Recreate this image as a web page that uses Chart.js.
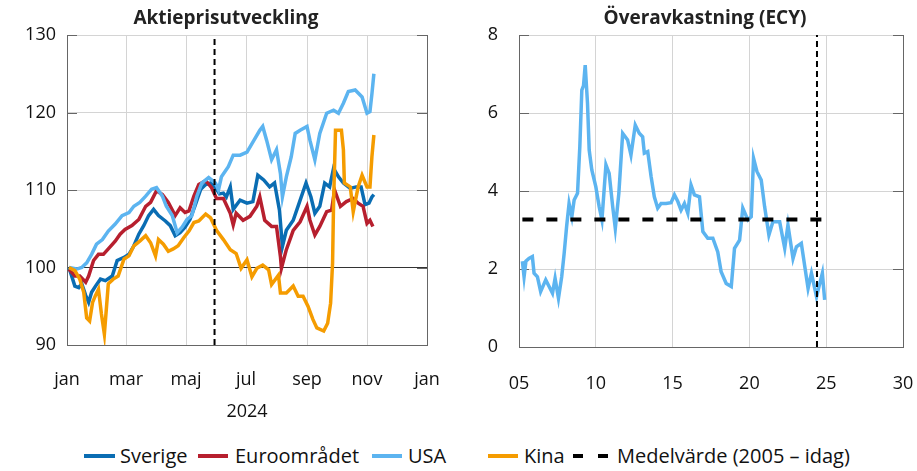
<!DOCTYPE html>
<html>
<head>
<meta charset="utf-8">
<script src="https://cdn.jsdelivr.net/npm/chart.js@4/dist/chart.umd.min.js"></script>
<style>
body { margin: 0; background: #fff; font-family: "Open Sans", sans-serif; }
#wrap { position: relative; width: 917px; height: 471px; overflow: hidden; }
canvas { position: absolute; top: 0; }
.ttl { position: absolute; top: 5px; font-weight: bold; font-size: 19px; line-height: 24px; text-align: center; color: #222; }
.lg { position: absolute; top: 444px; height: 24px; line-height: 24px; font-size: 20px; color: #111; white-space: nowrap; }
.sw { position: absolute; top: 456px; height: 4px; margin-top: -2px; }
</style>
</head>
<body>
<div id="wrap">
  <canvas id="left" width="452" height="430" style="left:0"></canvas>
  <canvas id="right" width="465" height="430" style="left:452px"></canvas>
  <div class="ttl" style="left:0;width:452px">Aktieprisutveckling</div>
  <div class="ttl" style="left:495px;width:420px">Överavkastning (ECY)</div>

  <div class="sw" style="left:84px;width:31px;background:#0a6db3"></div>
  <div class="lg" style="left:120px">Sverige</div>
  <div class="sw" style="left:198px;width:30px;background:#b71f2e"></div>
  <div class="lg" style="left:235px">Euroområdet</div>
  <div class="sw" style="left:372px;width:30px;background:#5cb4f0"></div>
  <div class="lg" style="left:408px">USA</div>
  <div class="sw" style="left:488px;width:30px;background:#f59c00"></div>
  <div class="lg" style="left:524px">Kina</div>
  <div class="sw" style="left:573px;width:36px;background:repeating-linear-gradient(to right,#000 0 10px,transparent 10px 25px)"></div>
  <div class="lg" style="left:617px">Medelvärde (2005 – idag)</div>
</div>
<script>
// vänster diagram: aktiepriser, index 100 = årsskiftet, x = dag på året 2024
var monthTicks = [0, 60, 121, 182, 244, 305, 366];
var monthLabels = ['jan', 'mar', 'maj', 'jul', 'sep', 'nov', 'jan'];

var sverigeDays = [2, 8, 12, 15, 19, 22, 25, 29, 34, 39, 46, 51, 58, 63, 68, 73, 78, 83, 88, 93, 100, 105, 110, 115, 120, 125, 130, 136, 141, 146, 151, 155, 159, 162, 166, 169, 176, 183, 189, 194, 200, 206, 211, 216, 219, 223, 230, 236, 243, 248, 252, 257, 262, 267, 271, 276, 281, 288, 294, 299, 303, 307, 310, 312];
var sverigeVals = [100, 97.6, 97.4, 97.9, 96.4, 95.5, 96.8, 97.6, 98.5, 98.3, 98.9, 100.9, 101.3, 101.7, 102.8, 104.3, 105.4, 106.7, 107.5, 106.7, 106, 105.4, 104.1, 104.5, 105.2, 106.2, 107.9, 110.1, 110.7, 110.9, 110.3, 109.5, 109.6, 109.1, 110.4, 107.5, 108.7, 108.3, 108.5, 111.9, 111.3, 110.4, 110.9, 107.4, 102.7, 104.8, 106.1, 108.3, 110.9, 109.1, 107, 107.9, 110.9, 110.4, 112.8, 111.7, 110.9, 110.2, 110.4, 110.4, 108.1, 108.3, 109.1, 109.4];

var euroDays = [2, 8, 13, 19, 22, 27, 32, 37, 42, 49, 54, 59, 66, 73, 80, 85, 91, 97, 103, 110, 115, 120, 124, 129, 134, 141, 147, 152, 159, 166, 169, 172, 179, 186, 193, 196, 201, 208, 213, 217, 218, 223, 230, 237, 244, 247, 252, 257, 264, 269, 272, 278, 284, 291, 296, 301, 305, 308, 311];
var euroVals = [99.8, 98.9, 98.9, 98.1, 98.9, 100.9, 101.7, 101.7, 102.4, 103.4, 104.3, 104.9, 105.4, 106.2, 107.9, 108.4, 109.9, 109.4, 108.4, 106.7, 107.7, 107.1, 107.3, 109.2, 110.7, 111.2, 110.3, 108.9, 108.9, 107, 105.5, 107, 106.1, 106.6, 107.9, 109.1, 106.1, 105.3, 105.3, 101.4, 99.9, 102.3, 104.8, 105.9, 107.9, 106.1, 104.2, 105.3, 107.2, 107.4, 110, 107.9, 108.5, 108.9, 108.3, 107.9, 105.7, 106.1, 105.3];

var usaDays = [2, 10, 15, 20, 25, 30, 36, 42, 49, 56, 63, 68, 74, 80, 86, 91, 97, 101, 107, 112, 117, 122, 127, 132, 137, 144, 151, 154, 157, 164, 169, 176, 183, 190, 196, 199, 203, 208, 213, 217, 219, 223, 228, 232, 237, 244, 247, 252, 257, 264, 271, 276, 281, 286, 293, 300, 305, 308, 310, 312];
var usaVals = [100, 99.8, 100, 100.6, 101.7, 103, 103.6, 104.7, 105.6, 106.7, 107.1, 107.9, 108.4, 109.2, 110.1, 110.3, 109.2, 107.9, 106.7, 104.5, 105.2, 106.2, 106.7, 109.2, 110.9, 111.6, 110.9, 110, 111.7, 113, 114.5, 114.5, 114.9, 116.4, 117.7, 118.2, 116.4, 113.9, 115.2, 112.1, 109.1, 111.7, 114.3, 117.3, 117.7, 118.2, 116.4, 113.9, 117.3, 119.9, 120.3, 119.9, 121.2, 122.7, 122.9, 122, 119.9, 120.1, 122.4, 125];

var kinaDays = [2, 8, 13, 17, 20, 23, 26, 29, 32, 35, 38, 42, 47, 52, 58, 63, 68, 74, 80, 85, 90, 93, 98, 103, 108, 113, 119, 124, 129, 134, 141, 146, 152, 159, 166, 172, 177, 183, 188, 193, 199, 205, 208, 215, 217, 223, 230, 235, 240, 245, 250, 254, 261, 265, 268, 270, 271, 273, 279, 281, 282, 288, 291, 296, 300, 305, 308, 310, 312];
var kinaVals = [100, 99.6, 98.5, 96.8, 93.5, 93.1, 95.5, 96.4, 97.2, 94, 91.4, 97.9, 98.5, 98.9, 101.1, 101.5, 102.8, 103.4, 104.1, 103.2, 101.5, 103.6, 103, 102.1, 102.4, 102.8, 103.9, 104.7, 105.8, 106, 106.9, 106.4, 104.8, 103.6, 102.3, 101.8, 99.9, 101, 98.8, 99.9, 100.3, 99.7, 97.8, 99, 96.7, 96.7, 97.6, 96.3, 96.3, 95, 93.3, 92.2, 91.8, 92.8, 95.4, 100.6, 108.3, 117.7, 117.7, 115.2, 110.9, 110.4, 107.2, 110.4, 111.9, 110.4, 110.4, 114.3, 117.1];

var markerDay = 150;

// höger diagram: överavkastning (ECY), x = år (05 = 2005)
var ecyYears = [5.22, 5.33, 5.45, 5.65, 5.87, 5.98, 6.2, 6.41, 6.74, 6.96, 7.18, 7.35, 7.57, 7.78, 7.94, 8.1, 8.26, 8.44, 8.59, 8.81, 8.96, 9.09, 9.2, 9.31, 9.46, 9.57, 9.74, 10.0, 10.22, 10.4, 10.66, 10.87, 11.1, 11.27, 11.5, 11.75, 12.07, 12.29, 12.57, 12.83, 13.05, 13.16, 13.38, 13.6, 13.81, 14.03, 14.25, 14.57, 14.9, 15.12, 15.34, 15.55, 15.77, 15.99, 16.2, 16.42, 16.75, 16.97, 17.29, 17.62, 17.94, 18.16, 18.49, 18.82, 19.03, 19.36, 19.57, 19.9, 20.12, 20.27, 20.49, 20.77, 20.99, 21.27, 21.53, 21.97, 22.3, 22.51, 22.84, 23.06, 23.38, 23.82, 24.04, 24.37, 24.53, 24.75, 24.9];
var ecyVals = [2.2, 1.8, 2.2, 2.27, 2.32, 1.89, 1.8, 1.42, 1.72, 1.55, 1.38, 1.76, 1.25, 1.8, 2.4, 3.09, 3.68, 3.34, 3.77, 3.94, 5.14, 6.59, 6.7, 7.23, 6.25, 5.05, 4.54, 4.11, 3.6, 3.26, 4.67, 4.45, 3.6, 3.04, 3.94, 5.48, 5.31, 4.92, 5.69, 5.48, 5.39, 4.97, 5.01, 4.37, 3.85, 3.56, 3.68, 3.68, 3.7, 3.9, 3.73, 3.51, 3.68, 3.43, 4.15, 3.9, 3.85, 2.96, 2.79, 2.79, 2.44, 1.93, 1.63, 1.55, 2.53, 2.74, 3.56, 3.26, 3.34, 4.84, 4.5, 4.28, 3.6, 2.87, 3.21, 3.21, 2.53, 3.13, 2.27, 2.57, 2.66, 1.5, 1.89, 1.29, 1.55, 1.89, 1.21];
var meanEcy = 3.27;
var meanYears = [5.22, 24.9];
var markerYear = 24.4;

function pts(xs, ys) {
  return xs.map(function (x, i) { return { x: x, y: ys[i] }; });
}

Chart.defaults.font.family = "'Open Sans', sans-serif";
Chart.defaults.font.size = 18;
Chart.defaults.color = '#111';

var gridColor = '#d4d4d4';
var axisColor = '#666';

// små streck innanför axellinjerna, som i Excel
var innerTicks = {
  id: 'innerTicks',
  beforeDatasetsDraw: function (chart) {
    var ctx = chart.ctx, a = chart.chartArea, s = chart.scales.y;
    ctx.save();
    ctx.strokeStyle = axisColor;
    ctx.lineWidth = 1;
    s.ticks.forEach(function (t) {
      var y = Math.round(s.getPixelForValue(t.value)) + 0.5;
      ctx.beginPath();
      ctx.moveTo(a.left, y); ctx.lineTo(a.left + 10, y);
      ctx.moveTo(a.right - 10, y); ctx.lineTo(a.right, y);
      ctx.stroke();
    });
    ctx.restore();
  }
};

// x-axelns etiketter får inte knuffa in ritytan
function fixX(h) {
  return function (s) { s.height = h; s.paddingLeft = 0; s.paddingRight = 0; };
}

function line(label, data, color) {
  return { label: label, data: data, borderColor: color, borderWidth: 3.5, pointRadius: 0, tension: 0, fill: false };
}

new Chart(document.getElementById('left'), {
  type: 'line',
  data: {
    datasets: [
      { label: 'marker', data: [{ x: markerDay, y: 90 }, { x: markerDay, y: 130 }], borderColor: '#000', borderWidth: 2, borderDash: [6, 4], pointRadius: 0 },
      line('Kina', pts(kinaDays, kinaVals), '#f59c00'),
      line('USA', pts(usaDays, usaVals), '#5cb4f0'),
      line('Euroområdet', pts(euroDays, euroVals), '#b71f2e'),
      line('Sverige', pts(sverigeDays, sverigeVals), '#0a6db3')
    ]
  },
  options: {
    responsive: false,
    animation: false,
    layout: { padding: { top: 35 } },
    plugins: { legend: { display: false }, tooltip: { enabled: false } },
    scales: {
      x: {
        type: 'linear', min: 0, max: 366,
        afterBuildTicks: function (s) { s.ticks = monthTicks.map(function (v) { return { value: v }; }); },
        afterFit: fixX(85),
        ticks: { autoSkip: false, maxRotation: 0, padding: 24, callback: function (v, i) { return monthLabels[i]; } },
        grid: { color: gridColor, drawTicks: false },
        border: { color: axisColor },
        title: { display: true, text: '2024', padding: { top: 0, bottom: 7 } }
      },
      y: {
        min: 90, max: 130,
        afterFit: function (s) { s.width = 67; },
        ticks: { stepSize: 10, padding: 11 },
        grid: { drawTicks: false, color: function (c) { return c.tick.value === 100 ? '#333' : gridColor; } },
        border: { color: axisColor }
      },
      y2: {
        position: 'right', min: 90, max: 130,
        afterFit: function (s) { s.width = 25; },
        ticks: { display: false },
        grid: { drawOnChartArea: false, drawTicks: false },
        border: { color: axisColor }
      }
    }
  },
  plugins: [innerTicks]
});

new Chart(document.getElementById('right'), {
  type: 'line',
  data: {
    datasets: [
      { label: 'marker', data: [{ x: markerYear, y: 0 }, { x: markerYear, y: 8 }], borderColor: '#000', borderWidth: 2, borderDash: [6, 4], pointRadius: 0 },
      { label: 'Medelvärde (2005 – idag)', data: pts(meanYears, [meanEcy, meanEcy]), borderColor: '#000', borderWidth: 4, borderDash: [11, 13], pointRadius: 0 },
      line('ECY', pts(ecyYears, ecyVals), '#5cb4f0')
    ]
  },
  options: {
    responsive: false,
    animation: false,
    layout: { padding: { top: 35 } },
    plugins: { legend: { display: false }, tooltip: { enabled: false } },
    scales: {
      x: {
        type: 'linear', min: 5, max: 30,
        afterFit: fixX(83),
        ticks: { stepSize: 5, maxRotation: 0, padding: 26, callback: function (v) { return (v < 10 ? '0' : '') + v; } },
        grid: { color: gridColor, drawTicks: false },
        border: { color: axisColor }
      },
      y: {
        min: 0, max: 8,
        afterFit: function (s) { s.width = 67; },
        ticks: { stepSize: 2, padding: 21 },
        grid: { color: gridColor, drawTicks: false },
        border: { color: axisColor }
      },
      y2: {
        position: 'right', min: 0, max: 8,
        afterFit: function (s) { s.width = 14; },
        ticks: { display: false },
        grid: { drawOnChartArea: false, drawTicks: false },
        border: { color: axisColor }
      }
    }
  },
  plugins: [innerTicks]
});
</script>
</body>
</html>
